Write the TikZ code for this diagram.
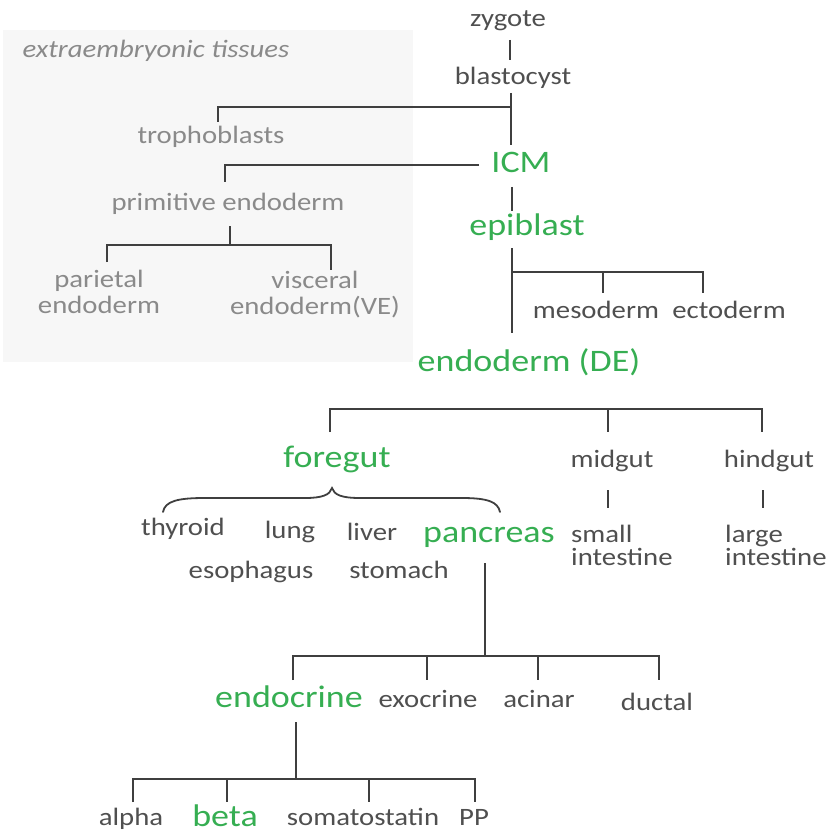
\documentclass[tikz,border=0pt]{standalone}
\usepackage{fontspec}
\setmainfont{Carlito}[FakeStretch=1.15]
\definecolor{txtdark}{HTML}{4F4F4F}
\definecolor{txtlight}{HTML}{8A8A8A}
\definecolor{txtgreen}{HTML}{36AE52}
\definecolor{linec}{HTML}{3F3F3F}
\definecolor{boxfill}{HTML}{F7F7F7}
\tikzset{
  lbl/.style={anchor=base, inner sep=0pt, text=txtdark, font=\fontsize{25}{26}\selectfont},
  lbllight/.style={lbl, text=txtlight},
  lblgreen/.style={anchor=base, inner sep=0pt, text=txtgreen, font=\fontsize{31.3}{36}\selectfont},
  tree/.style={draw=linec, line width=2.5pt},
  bracestyle/.style={draw=linec, line width=1.8pt, line cap=round}
}
\begin{document}
\begin{tikzpicture}[x=1pt, y=-1pt]
\useasboundingbox (0,0) rectangle (836,832);
% extraembryonic box
\fill[boxfill] (3,30) rectangle (413,362);
\node[lbllight, font=\fontsize{25}{26}\selectfont\itshape] (extra) at (156,58) {extraembryonic tissues};

% nodes
\node[lbl] (zyg) at (508,27) {zygote};
\node[lbl] (blast) at (513,85) {blastocyst};
\node[lbllight] (troph) at (211,144) {trophoblasts};
\node[lblgreen] (icm) at (521,173) {ICM};
\node[lbllight] (prim) at (228,211) {primitive endoderm};
\node[lbllight, align=center] (pariet) at (99,313) {parietal\\endoderm};
\node[lbllight, align=center] (visc) at (315,314) {visceral\\endoderm(VE)};
\node[lblgreen] (epi) at (527,236) {epiblast};
\node[lbl] (meso) at (596,318) {mesoderm};
\node[lbl] (ecto) at (729,318) {ectoderm};
\node[lblgreen] (endo) at (529,371) {endoderm (DE)};
\node[lblgreen] (fore) at (337,467) {foregut};
\node[lbl] (mid) at (612,467) {midgut};
\node[lbl] (hind) at (769,467) {hindgut};
\node[lbl] (thy) at (183,535) {thyroid};
\node[lbl] (lung) at (290,538) {lung};
\node[lbl] (liver) at (372,540) {liver};
\node[lblgreen] (panc) at (489,542) {pancreas};
\node[lbl] (eso) at (251,578) {esophagus};
\node[lbl] (stom) at (399,578) {stomach};
\node[lbl, anchor=base west, align=left, font=\fontsize{25}{23}\selectfont] (small) at (571,565) {small\\intestine};
\node[lbl, anchor=base west, align=left, font=\fontsize{25}{23}\selectfont] (large) at (725,565) {large\\intestine};
\node[lblgreen] (endocr) at (289,707) {endocrine};
\node[lbl] (exo) at (428,707) {exocrine};
\node[lbl] (acin) at (539,707) {acinar};
\node[lbl] (duct) at (657,710) {ductal};
\node[lbl] (alpha) at (131,825) {alpha};
\node[lblgreen] (beta) at (225,826) {beta};
\node[lbl] (soma) at (363,825) {somatostatin};
\node[lbl] (pp) at (474,825) {PP};

% junction coordinates
\coordinate (zb1) at (510,40);  \coordinate (zb2) at (510,60);
\coordinate (b1) at (511,93);   \coordinate (b2) at (511,145);
\coordinate (bh) at (511,107);  \coordinate (th) at (218,107); \coordinate (tt) at (218,122);
\coordinate (ih) at (479,165);  \coordinate (ph) at (225,165); \coordinate (pt) at (225,182);
\coordinate (pe1) at (230,226); \coordinate (pe2) at (230,245);
\coordinate (pl) at (107,245);  \coordinate (pr) at (331,245);
\coordinate (plt) at (107,262); \coordinate (prt) at (331,270);
\coordinate (ie1) at (512,187); \coordinate (ie2) at (512,211);
\coordinate (e1) at (512,248);  \coordinate (e2) at (512,333);
\coordinate (eh) at (512,272);  \coordinate (ms) at (603,272); \coordinate (ec) at (703,272);
\coordinate (mst) at (603,293); \coordinate (ect) at (703,293);
\coordinate (dl) at (330,409);  \coordinate (dm) at (608,409); \coordinate (dr) at (762,409);
\coordinate (dlt) at (330,432); \coordinate (dmt) at (608,432); \coordinate (drt) at (762,432);
\coordinate (m1) at (608,490);  \coordinate (m2) at (608,508);
\coordinate (h1) at (763,490);  \coordinate (h2) at (763,508);
\coordinate (pa1) at (485,563); \coordinate (pa2) at (485,656);
\coordinate (ql) at (293,656);  \coordinate (qr) at (659,656);
\coordinate (qa) at (427,656);  \coordinate (qb) at (538,656);
\coordinate (en1) at (296,722); \coordinate (en2) at (296,779);
\coordinate (rl) at (133,779);  \coordinate (rr) at (475,779);
\coordinate (ra) at (227,779);  \coordinate (rb) at (369,779);

% tree lines
\draw[tree] (zb1) -- (zb2);
\draw[tree] (b1) -- (b2);
\draw[tree] (bh) -- (th) -- (tt);
\draw[tree] (ih) -- (ph) -- (pt);
\draw[tree] (pe1) -- (pe2);
\draw[tree] (plt) -- (pl) -- (pr) -- (prt);
\draw[tree] (ie1) -- (ie2);
\draw[tree] (e1) -- (e2);
\draw[tree] (eh) -- (ec) -- (ect);
\draw[tree] (ms) -- (mst);
\draw[tree] (dlt) -- (dl) -- (dr) -- (drt);
\draw[tree] (dm) -- (dmt);
\draw[tree] (m1) -- (m2);
\draw[tree] (h1) -- (h2);
\draw[tree] (pa1) -- (pa2);
\draw[tree] (ql) ++(0,24) -- (ql) -- (qr) -- ++(0,24);
\draw[tree] (qa) -- ++(0,24);
\draw[tree] (qb) -- ++(0,24);
\draw[tree] (en1) -- (en2);
\draw[tree] (rl) ++(0,23) -- (rl) -- (rr) -- ++(0,23);
\draw[tree] (ra) -- ++(0,23);
\draw[tree] (rb) -- ++(0,23);

% brace under foregut
\coordinate (brl) at (163,512);
\coordinate (brtip) at (332,488);
\coordinate (brr) at (500,512);
\draw[bracestyle] (brl) .. controls (165,501) and (178,498) .. (205,498)
  -- (305,498) .. controls (322,498) and (330,495) .. (brtip)
  .. controls (334,495) and (342,498) .. (360,498)
  -- (462,498) .. controls (488,498) and (498,502) .. (brr);
\end{tikzpicture}
\end{document}
